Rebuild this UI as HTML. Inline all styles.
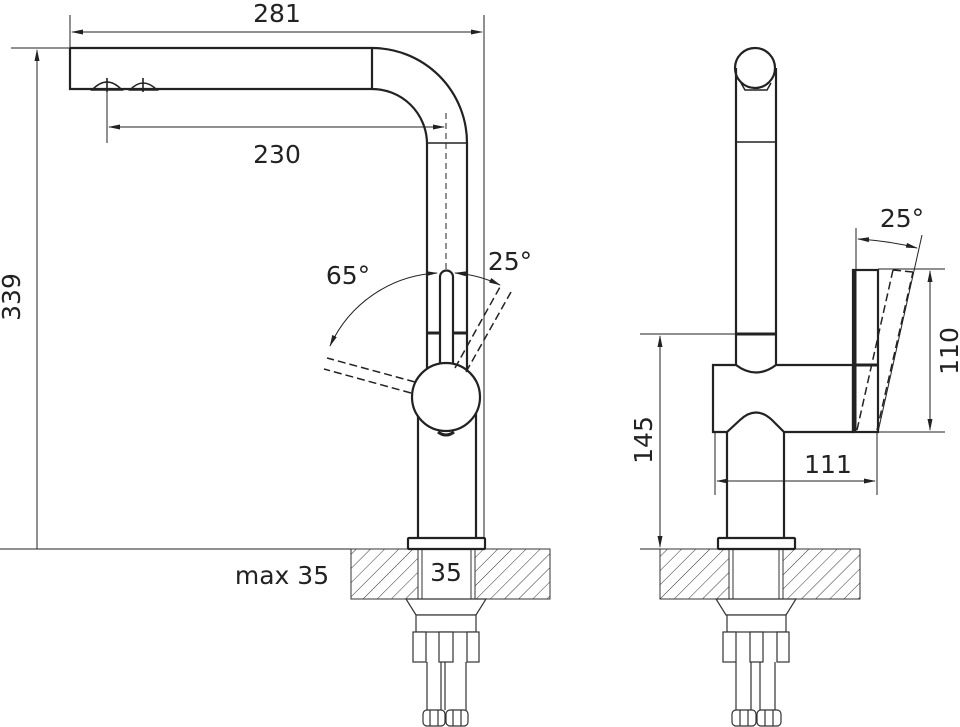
<!DOCTYPE html>
<html><head><meta charset="utf-8"><style>
html,body{margin:0;padding:0;background:#fff;}
svg{display:block}
text{font-family:"DejaVu Sans","Liberation Sans",sans-serif;fill:#222;}
</style></head><body>
<svg width="960" height="727" viewBox="0 0 960 727" xmlns="http://www.w3.org/2000/svg">
<defs>
<pattern id="h" patternUnits="userSpaceOnUse" width="10" height="10" patternTransform="rotate(45)">
<line x1="0" y1="0" x2="0" y2="10" stroke="#333" stroke-width="1"/>
</pattern>
<marker id="a" markerWidth="12" markerHeight="6" refX="11" refY="3" orient="auto-start-reverse" markerUnits="userSpaceOnUse">
<path d="M0,0.5 L12,3 L0,5.5 z" fill="#222"/>
</marker>
</defs>
<g fill="none" stroke="#222" stroke-width="1">
<line x1="70" y1="15" x2="70" y2="89"/>
<line x1="484" y1="15" x2="484" y2="549"/>
<line x1="72" y1="32" x2="482" y2="32" marker-start="url(#a)" marker-end="url(#a)"/>
<line x1="11" y1="48" x2="70" y2="48"/>
<line x1="37" y1="50" x2="37" y2="549" marker-start="url(#a)"/>
<line x1="0" y1="549" x2="351" y2="549"/>
<line x1="107" y1="85" x2="107" y2="143"/>
<line x1="109" y1="127" x2="444" y2="127" marker-start="url(#a)" marker-end="url(#a)"/>
<line x1="446" y1="113" x2="446" y2="395" stroke-dasharray="6,4"/>
<path d="M437,273 A125,125 0 0 0 330,346" marker-start="url(#a)" marker-end="url(#a)"/>
<path d="M455,273 A125,125 0 0 1 500,285" marker-start="url(#a)" marker-end="url(#a)"/>
<line x1="422" y1="588" x2="472" y2="588" marker-start="url(#a)" marker-end="url(#a)"/>
<line x1="640" y1="334" x2="736" y2="334"/>
<line x1="660" y1="336" x2="660" y2="547" marker-start="url(#a)" marker-end="url(#a)"/>
<line x1="878" y1="269" x2="945" y2="269"/>
<line x1="878" y1="432" x2="945" y2="432"/>
<line x1="930" y1="271" x2="930" y2="430" marker-start="url(#a)" marker-end="url(#a)"/>
<line x1="715" y1="432" x2="715" y2="495"/>
<line x1="877" y1="432" x2="877" y2="495"/>
<line x1="717" y1="481" x2="875" y2="481" marker-start="url(#a)" marker-end="url(#a)"/>
<line x1="856" y1="228" x2="856" y2="270"/>
<line x1="922" y1="235" x2="878" y2="432"/>
<path d="M858,239 Q890,241 917,248" marker-start="url(#a)" marker-end="url(#a)"/>
<line x1="640" y1="549" x2="660" y2="549"/>
</g>

<g stroke="#333" stroke-width="1">
<rect x="351" y="549" width="67" height="50" fill="url(#h)"/>
<rect x="475" y="549" width="75" height="50" fill="url(#h)"/>
<rect x="418" y="549" width="57" height="50" fill="#fff"/>
<rect x="422" y="549" width="49" height="50" fill="none"/>
<rect x="660" y="549" width="69" height="50" fill="url(#h)"/>
<rect x="783" y="549" width="77" height="50" fill="url(#h)"/>
<rect x="729" y="549" width="54" height="50" fill="#fff"/>
<rect x="733" y="549" width="46" height="50" fill="none"/>
</g>

<g fill="none" stroke="#222" stroke-width="2.2">
<path d="M70,48 L372,48 A95,95 0 0 1 467,143 L467,375"/>
<path d="M70,48 L70,89 L372,89 A55,55 0 0 1 427,143 L427,375"/>
<line x1="372" y1="48" x2="372" y2="89"/>
<line x1="427" y1="143" x2="467" y2="143" stroke-width="1.5"/>
<line x1="427" y1="333" x2="467" y2="333" stroke-width="3"/>
<path d="M92,90 Q107,74 122,90 Z" stroke-width="1.6"/>
<line x1="107" y1="78" x2="107" y2="92" stroke-width="1.6"/>
<path d="M130,90 Q143,76 157,90 Z" stroke-width="1.6"/>
<line x1="143" y1="78" x2="143" y2="92" stroke-width="1.6"/>
<path d="M418,408 L418,540 M476,408 L476,540"/>
<path d="M440,368 L440,277 A6.5,6.5 0 0 1 453,277 L453,368" fill="#fff"/>
<circle cx="446" cy="397" r="34" fill="#fff"/>
<path d="M440,366 L452,366" stroke="#fff" stroke-width="3"/>
<path d="M438,432 Q446,438 454,432" stroke-width="3"/>
<rect x="408" y="538" width="77" height="11" rx="1" fill="#fff"/>
<circle cx="755" cy="68" r="20"/>
<path d="M736,68 L736,366 M776,68 L776,366"/>
<line x1="736" y1="142" x2="776" y2="142" stroke-width="1.5"/>
<line x1="736" y1="334" x2="776" y2="334" stroke-width="3"/>
<path d="M741,83 L745,90 L767,90 L771,83" stroke-width="1.5"/>
<path d="M713,365 L736,365 Q756,380 776,365 L853,365 L853,432 L784,432 L772,420 Q756,405 740,420 L727,432 L713,432 Z" fill="#fff"/>
<rect x="853" y="270" width="25" height="162" fill="#fff"/>
<line x1="855" y1="365" x2="878" y2="365" stroke-width="3"/>
<line x1="855" y1="270" x2="855" y2="432" stroke-width="3"/>
<path d="M727,432 L727,538 M784,432 L784,538"/>
<rect x="718" y="538" width="77" height="11" rx="1" fill="#fff"/>
</g>
<g fill="none" stroke="#222" stroke-width="1.5" stroke-dasharray="8,4">
<path d="M415,382 L327,358 M411,393 L324,369"/>
<path d="M455,368 L500,287 M466,372 L511,292"/>
<path d="M857,430 L893,270 M877,430 L913,272 M893,270 L913,272"/>
</g>

<g fill="#fff" stroke="#333" stroke-width="1.2">
<path d="M406,599 L486,599 L476,615 L416,615 Z"/>
<rect x="416" y="615" width="60" height="17"/>
<rect x="413" y="632" width="13" height="30"/><rect x="439" y="632" width="14" height="30"/><rect x="467" y="632" width="12" height="30"/>
<path d="M427,662 V710 M441,662 V710 M445,662 V710 M466,662 V710" fill="none"/>
<rect x="423" y="710" width="22" height="16" rx="4"/><rect x="446" y="710" width="22" height="16" rx="4"/>
<path d="M430,710 V726 M438,710 V726 M453,710 V726 M461,710 V726" fill="none"/>
<path d="M716,599 L796,599 L786,615 L726,615 Z"/>
<rect x="727" y="615" width="59" height="17"/>
<rect x="723" y="632" width="13" height="30"/><rect x="750" y="632" width="13" height="30"/><rect x="777" y="632" width="12" height="30"/>
<path d="M736,662 V710 M751,662 V710 M760,662 V710 M775,662 V710" fill="none"/>
<rect x="732" y="710" width="24" height="16" rx="4"/><rect x="757" y="710" width="24" height="16" rx="4"/>
<path d="M740,710 V726 M748,710 V726 M765,710 V726 M773,710 V726" fill="none"/>
</g>

<g font-size="25">
<text x="277" y="22" text-anchor="middle">281</text>
<text x="277" y="163" text-anchor="middle">230</text>
<text x="348" y="284" text-anchor="middle">65°</text>
<text x="510" y="270" text-anchor="middle">25°</text>
<text x="282" y="584" text-anchor="middle">max 35</text>
<text x="446" y="581" text-anchor="middle">35</text>
<text x="902" y="227" text-anchor="middle">25°</text>
<text x="828" y="473" text-anchor="middle">111</text>
<text transform="translate(20,297) rotate(-90)" text-anchor="middle">339</text>
<text transform="translate(652,440) rotate(-90)" text-anchor="middle">145</text>
<text transform="translate(958,351) rotate(-90)" text-anchor="middle">110</text>
</g>
</svg>
</body></html>
